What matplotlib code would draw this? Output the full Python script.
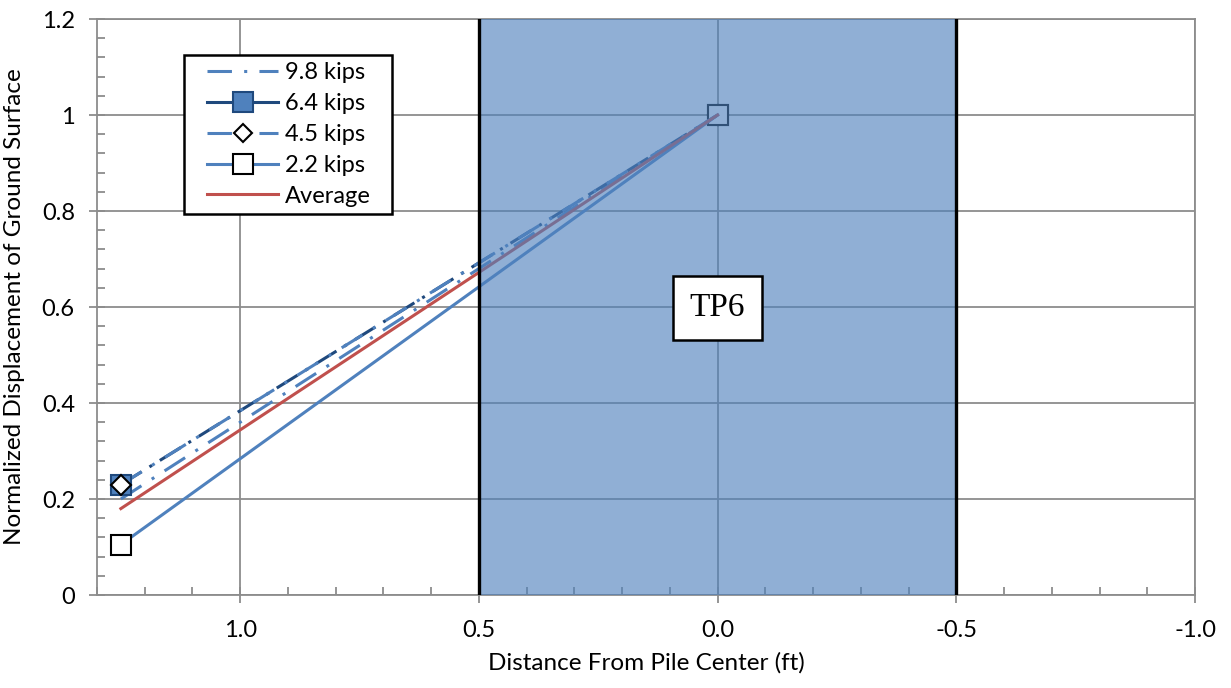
import matplotlib.pyplot as plt
from matplotlib.lines import Line2D
from matplotlib.legend_handler import HandlerLine2D
from matplotlib.ticker import MultipleLocator

plt.rcParams['font.family'] = ['Lato', 'DejaVu Sans']

# distance from pile center (ft) and normalized displacement
dist = [1.25, 0.0]
d98 = [0.20, 1.0]
d64 = [0.23, 1.0]
d45 = [0.23, 1.0]
d22 = [0.105, 1.0]
avg = [0.18, 1.0]

labels = ['9.8 kips', '6.4 kips', '4.5 kips', '2.2 kips', 'Average']
xticks = [1.0, 0.5, 0.0, -0.5, -1.0]
yticks = [0, 0.2, 0.4, 0.6, 0.8, 1.0, 1.2]

blue = '#4F81BD'
navy = '#1F497D'
red = '#C0504D'
grid = '#8C8C8C'

fig = plt.figure(figsize=(12.31, 6.88), dpi=100)
ax = fig.add_axes([97 / 1231, 93 / 688, 1098 / 1231, 576 / 688])

# lines
ax.plot(dist, d98, color=blue, lw=2.2, dashes=(8, 4, 1, 4), zorder=3)
ax.plot(dist, d64, color=navy, lw=2.2, dashes=(8, 3, 1, 3), zorder=3)
ax.plot(dist, d45, color=blue, lw=2.2, dashes=(8, 4, 1, 4), zorder=3)
ax.plot(dist, d22, color=blue, lw=2.2, zorder=3)
ax.plot(dist, avg, color=red, lw=2.2, zorder=3)

# markers: far point on top of lines, pile-center point beneath them
mk64 = dict(marker='s', ms=14, mfc=blue, mec=navy, mew=1.5, ls='none')
mk45 = dict(marker='D', ms=10, mfc='white', mec='black', mew=1.5, ls='none')
mk22 = dict(marker='s', ms=14, mfc='white', mec='black', mew=1.5, ls='none')
ax.plot(dist, d64, markevery=[0], zorder=4, **mk64)
ax.plot(dist, d45, markevery=[0], zorder=4.2, **mk45)
ax.plot(dist, d22, markevery=[0], zorder=4, **mk22)
ax.plot(dist, d64, markevery=[1], zorder=2.4, **mk64)
ax.plot(dist, d45, markevery=[1], zorder=2.5, **mk45)
ax.plot(dist, d22, markevery=[1], zorder=2.6, **mk22)

# pile zone overlay
ax.axvspan(0.5, -0.5, color='#4F81BD', alpha=0.63, lw=0, zorder=5)
ax.axvline(0.5, color='black', lw=2.4, zorder=6)
ax.axvline(-0.5, color='black', lw=2.4, zorder=6)

ax.text(0.0, 0.598, 'TP6', family='Liberation Serif', fontsize=24,
        ha='center', va='center', zorder=7,
        bbox=dict(boxstyle='square,pad=0.5', fc='white', ec='black', lw=1.8))

ax.set_xlim(1.3, -1.0)
ax.set_ylim(0, 1.2)
ax.set_xticks(xticks)
ax.set_xticklabels([f'{v:.1f}' for v in xticks])
ax.set_yticks(yticks)
ax.set_yticklabels(['0', '0.2', '0.4', '0.6', '0.8', '1', '1.2'])
ax.xaxis.set_minor_locator(MultipleLocator(0.1))
ax.yaxis.set_minor_locator(MultipleLocator(0.04))
ax.tick_params(which='major', direction='inout', length=12, width=1.3,
               color=grid, labelsize=17, pad=12)
ax.tick_params(which='minor', direction='in', length=6, width=1.3, color=grid)
ax.tick_params(axis='y', which='major', pad=10)
ax.grid(True, which='major', color=grid, lw=1.3, zorder=1)
ax.set_axisbelow(True)
for s in ax.spines.values():
    s.set_color(grid)
    s.set_linewidth(1.3)

ax.set_xlabel('Distance From Pile Center (ft)', fontsize=17.5, labelpad=8)
ax.set_ylabel('Normalized Displacement of Ground Surface', fontsize=17.5, labelpad=12)

handles = [
    Line2D([], [], color=blue, lw=2.2, dashes=(8, 4, 1, 4)),
    Line2D([], [], color=navy, lw=2.2, marker='s', ms=14, mfc=blue, mec=navy, mew=1.5),
    Line2D([], [], color=blue, lw=2.2, dashes=(8, 4, 1, 4), marker='D', ms=9,
           mfc='white', mec='black', mew=1.5),
    Line2D([], [], color=blue, lw=2.2, marker='s', ms=14, mfc='white', mec='black', mew=1.5),
    Line2D([], [], color=red, lw=2.2),
]
leg_w = 208 / 1098
leg_h = 160 / 576
leg = ax.legend(handles, labels, loc='upper left',
                bbox_to_anchor=(0.079, 0.9375 - leg_h, leg_w, leg_h), mode='expand',
                borderaxespad=0, fontsize=17, frameon=True, fancybox=False,
                framealpha=1, edgecolor='black', handlelength=3.7, borderpad=0.3,
                labelspacing=0.42, handletextpad=0.3,
                handler_map={Line2D: HandlerLine2D(xpad=0.7)})
leg.get_frame().set_linewidth(1.8)
leg.set_zorder(8)

fig.savefig('out.png', dpi=100)
